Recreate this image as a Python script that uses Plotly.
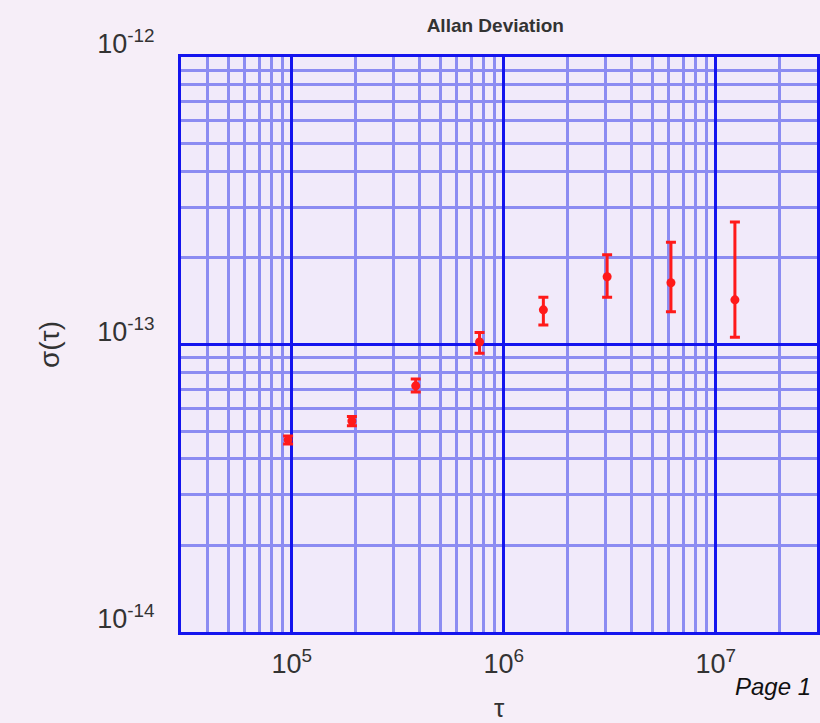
import plotly.graph_objects as go
import numpy as np

tau = [9.6e4, 1.92e5, 3.84e5, 7.68e5, 1.536e6, 3.07e6, 6.14e6, 1.23e7]
sigma = [4.66e-14, 5.42e-14, 7.18e-14, 1.02e-13, 1.32e-13, 1.72e-13, 1.64e-13, 1.43e-13]
err_up = [0.15e-14, 0.2e-14, 0.4e-14, 0.08e-13, 0.14e-13, 0.33e-13, 0.63e-13, 1.24e-13]
err_down = [0.15e-14, 0.2e-14, 0.35e-14, 0.087e-13, 0.15e-13, 0.26e-13, 0.34e-13, 0.37e-13]

x_tickvals = [1e5, 1e6, 1e7]
x_ticktext = ["10<sup>5</sup>", "10<sup>6</sup>", "10<sup>7</sup>"]
y_tickvals = [1e-14, 1e-13, 1e-12]
y_ticktext = ["10<sup>-14</sup>", "10<sup>-13</sup>", "10<sup>-12</sup>"]

major = "#1414ee"
minor = "#8c8cf2"
font_col = "#333333"

fig = go.Figure()
fig.add_trace(go.Scatter(
    x=tau, y=sigma, mode="markers",
    marker=dict(color="#ff1a1a", size=9),
    error_y=dict(type="data", symmetric=False, array=err_up, arrayminus=err_down,
                 color="#ff1a1a", thickness=3, width=5),
    showlegend=False,
))

fig.update_layout(
    width=820, height=723,
    margin=dict(l=181, r=3, t=57, b=91, autoexpand=False),
    paper_bgcolor="#f6eef8",
    plot_bgcolor="#f1eafa",
    font=dict(family="Liberation Sans, Arial, sans-serif", color=font_col),
    title=dict(text="<b>Allan Deviation</b>", x=0.604, xanchor="center", y=0.965, yanchor="middle",
               font=dict(size=19, color=font_col)),
    annotations=[
        dict(text="<i>Page 1</i>", x=1.0, y=-0.095, xref="paper", yref="paper",
             xanchor="left", yanchor="middle", showarrow=False,
             xshift=-84, font=dict(size=24, color="#111111")),
        dict(text="τ", x=0.5, y=-0.132, xref="paper", yref="paper",
             xanchor="center", yanchor="middle", showarrow=False,
             font=dict(size=26, color=font_col)),
    ],
)

fig.update_xaxes(
    type="log", range=[np.log10(3e4), np.log10(3e7)],
    tickvals=x_tickvals, ticktext=x_ticktext,
    tickfont=dict(size=27, color=font_col),
    ticks="", ticklabelstandoff=6, automargin=False,
    showgrid=True, gridcolor=major, gridwidth=3,
    minor=dict(showgrid=True, gridcolor=minor, gridwidth=2.5, dtick="D1"),
    showline=True, linecolor=major, linewidth=3, mirror=True,
    zeroline=False,
)
fig.update_yaxes(
    type="log", range=[-14, -12],
    tickvals=y_tickvals, ticktext=y_ticktext,
    tickfont=dict(size=27, color=font_col),
    ticks="", ticklabelstandoff=18, ticklabelshift=-13, automargin=False,
    showgrid=True, gridcolor=major, gridwidth=3,
    minor=dict(showgrid=True, gridcolor=minor, gridwidth=2.5, dtick="D1"),
    showline=True, linecolor=major, linewidth=3, mirror=True,
    zeroline=False,
    title=dict(text="σ(τ)", font=dict(size=28, color=font_col), standoff=30),
)

fig.write_html("out.html")
